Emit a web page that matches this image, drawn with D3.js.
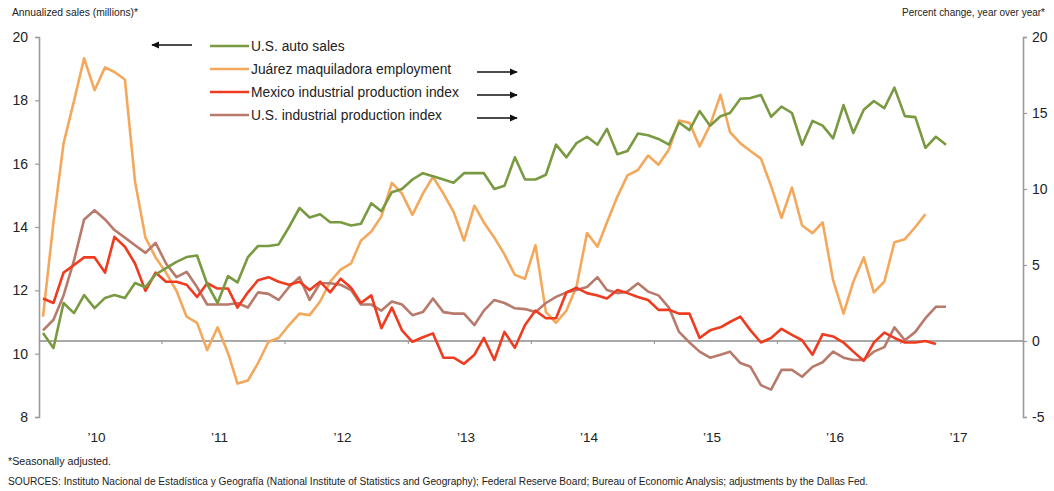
<!DOCTYPE html>
<html>
<head>
<meta charset="utf-8">
<script src="https://cdn.jsdelivr.net/npm/d3@7"></script>
<style>
  body { margin: 0; background: #fff; }
  text { font-family: "Liberation Sans", Arial, sans-serif; fill: #222; }
</style>
</head>
<body>
<div id="chart"></div>
<script>
// monthly data, first month Aug 2009
var startMonth = new Date(2009, 7, 1);
var autoSales = [10.65,10.18,11.6,11.28,11.85,11.44,11.76,11.85,11.76,12.23,
  12.1,12.5,12.7,12.9,13.05,13.1,12.2,11.6,12.45,12.25,
  13.05,13.4,13.4,13.45,14.0,14.6,14.3,14.4,14.15,14.15,
  14.05,14.1,14.75,14.5,15.1,15.2,15.5,15.7,15.6,15.5,
  15.4,15.7,15.7,15.7,15.2,15.3,16.2,15.5,15.5,15.65,
  16.6,16.2,16.65,16.85,16.6,17.1,16.3,16.4,16.95,16.9,
  16.78,16.6,17.3,17.06,17.66,17.2,17.5,17.6,18.05,18.07,
  18.17,17.48,17.8,17.6,16.6,17.35,17.2,16.8,17.85,16.97,
  17.7,17.98,17.75,18.4,17.5,17.47,16.5,16.85,16.6];
var juarezEmp = [1.6,7.8,13.0,15.8,18.6,16.5,18.0,17.7,17.2,10.5,
  6.8,5.5,4.5,3.3,1.6,1.2,-0.6,0.9,-0.8,-2.8,
  -2.6,-1.45,-0.05,0.2,1.05,1.8,1.7,2.6,3.9,4.7,
  5.1,6.6,7.2,8.2,10.4,9.7,8.3,9.7,10.8,9.7,
  8.5,6.6,8.9,7.8,6.8,5.7,4.35,4.1,6.3,1.9,
  1.2,2.0,3.6,7.1,6.2,7.8,9.5,10.9,11.25,12.2,
  11.6,12.6,14.5,14.35,12.8,14.2,16.2,13.75,13.0,12.5,
  12.0,10.2,8.1,10.1,7.6,7.1,7.8,4.0,1.8,3.9,
  5.5,3.2,3.9,6.5,6.7,7.5,8.35];
var mexicoIP = [2.8,2.5,4.5,5.0,5.5,5.5,4.5,6.85,6.2,5.1,
  3.3,4.5,3.9,3.9,3.7,2.9,3.8,3.45,3.45,2.2,
  3.2,4.0,4.2,3.9,3.7,3.9,3.35,3.9,3.2,4.1,
  3.5,2.5,3.0,0.85,2.2,0.7,-0.05,0.25,0.5,-1.1,
  -1.1,-1.5,-0.9,0.2,-1.25,0.6,-0.45,1.05,2.0,1.5,
  1.5,3.2,3.5,3.15,3.0,2.8,3.35,3.15,2.9,2.7,
  2.05,2.05,1.8,1.8,0.2,0.7,0.9,1.25,1.6,0.7,
  -0.1,0.2,0.8,0.4,0.05,-0.9,0.45,0.3,-0.1,-0.7,
  -1.3,-0.1,0.55,0.2,-0.1,-0.1,0,-0.2];
var usIP = [0.7,1.4,3.0,5.3,8.0,8.6,8.0,7.3,6.8,6.3,
  5.8,6.45,5.1,4.2,4.55,3.55,2.4,2.4,2.4,2.5,
  2.2,3.2,3.1,2.7,3.55,4.2,2.7,3.8,3.8,3.7,
  3.35,2.4,2.4,2.0,2.6,2.4,1.7,1.9,2.8,1.9,
  1.8,1.8,1.05,2.0,2.7,2.5,2.15,2.1,1.9,2.5,
  2.9,3.2,3.35,3.55,4.2,3.35,3.15,3.25,3.8,3.25,
  3.0,2.2,0.6,-0.1,-0.7,-1.1,-0.9,-0.7,-1.45,-1.7,
  -2.9,-3.2,-1.9,-1.9,-2.35,-1.7,-1.4,-0.7,-1.1,-1.25,
  -1.25,-0.7,-0.4,0.9,0.05,0.6,1.5,2.25,2.25];

var leftTicks = [8, 10, 12, 14, 16, 18, 20];
var rightTicks = [-5, 0, 5, 10, 15, 20];
var yearLabels = ["\u201910", "\u201911", "\u201912", "\u201913", "\u201914", "\u201915", "\u201916", "\u201917"];
var seriesNames = ["U.S. auto sales", "Ju\u00e1rez maquiladora employment", "Mexico industrial production index", "U.S. industrial production index"];
var seriesColors = ["#7a9a41", "#f4a85c", "#ef3c20", "#b77a6b"];

(function () {
var width = 1054, height = 491;
var plotLeft = 39, plotRight = 1023, plotTop = 37, plotBottom = 417;

var svg = d3.select("#chart").append("svg")
  .attr("width", width)
  .attr("height", height);

function monthDate(i) { return d3.timeMonth.offset(startMonth, i); }

var x = d3.scaleTime()
  .domain([startMonth, monthDate(88)])
  .range([43, 946]);
var yL = d3.scaleLinear().domain([8, 20]).range([plotBottom, plotTop]);
var yR = d3.scaleLinear().domain([-5, 20]).range([plotBottom, plotTop]);

// axes
var axL = svg.append("g").attr("transform", "translate(" + plotLeft + ",0)")
  .call(d3.axisLeft(yL).tickValues(leftTicks).tickSize(4).tickPadding(7));
var axR = svg.append("g").attr("transform", "translate(" + plotRight + ",0)")
  .call(d3.axisRight(yR).tickValues(rightTicks).tickSize(4).tickPadding(5).tickFormat(d3.format("d")));
[axL, axR].forEach(function (a) {
  a.select(".domain").attr("stroke", "#9b9b9b").attr("stroke-width", 1.6);
  a.selectAll(".tick line").attr("stroke", "#9b9b9b").attr("stroke-width", 1.2);
  a.selectAll(".tick text").style("font-size", "14px").attr("fill", "#222");
});
axR.selectAll(".tick text").text(function (d) { return d < 0 ? "-" + Math.abs(d) : d; });

// zero line
svg.append("line")
  .attr("x1", plotLeft).attr("x2", plotRight)
  .attr("y1", yR(0)).attr("y2", yR(0))
  .attr("stroke", "#8c8c8c").attr("stroke-width", 1.6);

// year ticks on zero line (mid-year)
var yearTicks = d3.range(2010, 2017).map(function (y) { return new Date(y, 6, 20); });
svg.append("g").selectAll("line").data(yearTicks).enter().append("line")
  .attr("x1", function (d) { return x(d); }).attr("x2", function (d) { return x(d); })
  .attr("y1", yR(0)).attr("y2", yR(0) + 3)
  .attr("stroke", "#9b9b9b").attr("stroke-width", 1.2);

// year labels
svg.append("g").selectAll("text").data(yearLabels).enter().append("text")
  .attr("x", function (d, i) { return x(new Date(2010 + i, 0, 1)) + 2; })
  .attr("y", 442)
  .attr("text-anchor", "middle")
  .style("font-size", "13.5px")
  .text(function (d) { return d; });

// lines
function drawLine(values, yScale, color) {
  var line = d3.line()
    .x(function (d, i) { return x(monthDate(i)); })
    .y(function (d) { return yScale(d); });
  svg.append("path")
    .datum(values)
    .attr("d", line)
    .attr("fill", "none")
    .attr("stroke", color)
    .attr("stroke-width", 2.6)
    .attr("stroke-linejoin", "round");
}
drawLine(juarezEmp, yR, seriesColors[1]);
drawLine(usIP, yR, seriesColors[3]);
drawLine(mexicoIP, yR, seriesColors[2]);
drawLine(autoSales, yL, seriesColors[0]);

// axis titles
svg.append("text").attr("x", 12).attr("y", 16).style("font-size", "10.5px")
  .attr("textLength", 126).attr("lengthAdjust", "spacingAndGlyphs")
  .text("Annualized sales (millions)*");
svg.append("text").attr("x", 902).attr("y", 16).style("font-size", "10.5px")
  .attr("textLength", 143).attr("lengthAdjust", "spacingAndGlyphs")
  .text("Percent change, year over year*");

// legend
var legY = [46, 69, 92, 115];
var leg = svg.append("g");
seriesNames.forEach(function (name, i) {
  leg.append("line")
    .attr("x1", 210).attr("x2", 249)
    .attr("y1", legY[i]).attr("y2", legY[i])
    .attr("stroke", seriesColors[i]).attr("stroke-width", 2.6);
  leg.append("text")
    .attr("x", 251).attr("y", legY[i] + 5)
    .style("font-size", "13.8px")
    .text(name);
});

// arrows
svg.append("defs").append("marker")
  .attr("id", "arrowhead")
  .attr("viewBox", "0 -5 10 10")
  .attr("refX", 9).attr("refY", 0)
  .attr("markerWidth", 8).attr("markerHeight", 8)
  .attr("markerUnits", "userSpaceOnUse")
  .attr("orient", "auto")
  .append("path").attr("d", "M0,-4.5L10,0L0,4.5Z").attr("fill", "#111");
var arrows = [[192, 45, 152, 45], [477, 72, 517, 72], [477, 95, 517, 95], [477, 118, 517, 118]];
svg.append("g").selectAll("line").data(arrows).enter().append("line")
  .attr("x1", function (d) { return d[0]; }).attr("y1", function (d) { return d[1]; })
  .attr("x2", function (d) { return d[2]; }).attr("y2", function (d) { return d[3]; })
  .attr("stroke", "#111").attr("stroke-width", 1.6)
  .attr("marker-end", "url(#arrowhead)");

// footnotes
svg.append("text").attr("x", 8).attr("y", 465).style("font-size", "10px")
  .attr("textLength", 103).attr("lengthAdjust", "spacingAndGlyphs")
  .text("*Seasonally adjusted.");
svg.append("text").attr("x", 8).attr("y", 485).style("font-size", "10px")
  .attr("textLength", 860).attr("lengthAdjust", "spacingAndGlyphs")
  .text("SOURCES: Instituto Nacional de Estad\u00edstica y Geograf\u00eda (National Institute of Statistics and Geography); Federal Reserve Board; Bureau of Economic Analysis; adjustments by the Dallas Fed.");
})();
</script>
</body>
</html>
